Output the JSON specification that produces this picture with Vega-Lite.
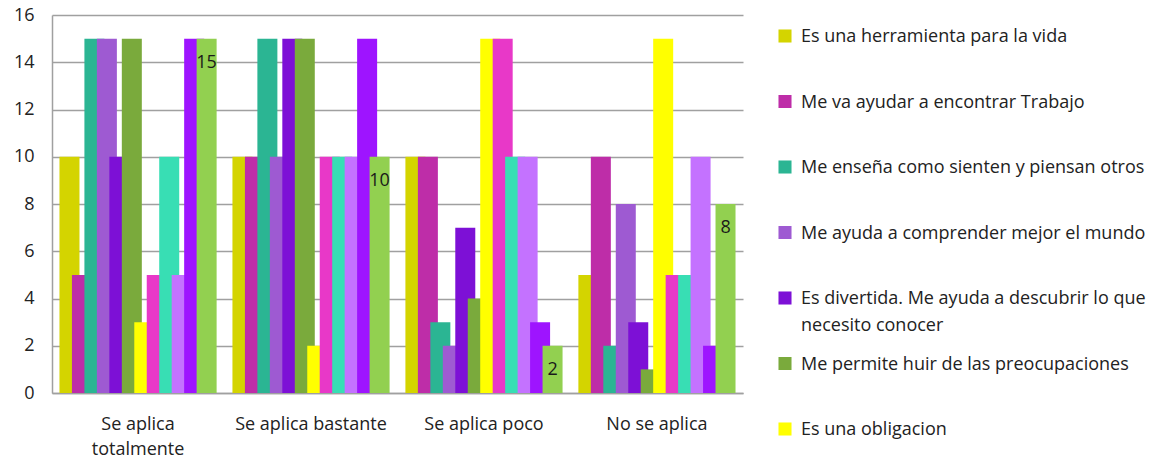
{
  "$schema": "https://vega.github.io/schema/vega-lite/v6.json",
  "autosize": {"type": "none"},
  "padding": {"left": 52, "top": 15, "right": 424, "bottom": 65},
  "width": 691,
  "height": 378,
  "background": "white",
  "config": {"view": {"stroke": null}, "font": "Open Sans"},
  "data": {"values": [
    {"cat": "Se aplica totalmente", "s": 1, "serie": "Es una herramienta para la vida", "v": 10},
    {"cat": "Se aplica totalmente", "s": 2, "serie": "Me va ayudar a encontrar Trabajo", "v": 5},
    {"cat": "Se aplica totalmente", "s": 3, "serie": "Me enseña como sienten y piensan otros", "v": 15},
    {"cat": "Se aplica totalmente", "s": 4, "serie": "Me ayuda a comprender mejor el mundo", "v": 15},
    {"cat": "Se aplica totalmente", "s": 5, "serie": "Es divertida. Me ayuda a descubrir lo que necesito conocer", "v": 10},
    {"cat": "Se aplica totalmente", "s": 6, "serie": "Me permite huir de las preocupaciones", "v": 15},
    {"cat": "Se aplica totalmente", "s": 7, "serie": "Es una obligacion", "v": 3},
    {"cat": "Se aplica totalmente", "s": 8, "serie": "Serie 8", "v": 5},
    {"cat": "Se aplica totalmente", "s": 9, "serie": "Serie 9", "v": 10},
    {"cat": "Se aplica totalmente", "s": 10, "serie": "Serie 10", "v": 5},
    {"cat": "Se aplica totalmente", "s": 11, "serie": "Serie 11", "v": 15},
    {"cat": "Se aplica totalmente", "s": 12, "serie": "Serie 12", "v": 15},
    {"cat": "Se aplica bastante", "s": 1, "serie": "Es una herramienta para la vida", "v": 10},
    {"cat": "Se aplica bastante", "s": 2, "serie": "Me va ayudar a encontrar Trabajo", "v": 10},
    {"cat": "Se aplica bastante", "s": 3, "serie": "Me enseña como sienten y piensan otros", "v": 15},
    {"cat": "Se aplica bastante", "s": 4, "serie": "Me ayuda a comprender mejor el mundo", "v": 10},
    {"cat": "Se aplica bastante", "s": 5, "serie": "Es divertida. Me ayuda a descubrir lo que necesito conocer", "v": 15},
    {"cat": "Se aplica bastante", "s": 6, "serie": "Me permite huir de las preocupaciones", "v": 15},
    {"cat": "Se aplica bastante", "s": 7, "serie": "Es una obligacion", "v": 2},
    {"cat": "Se aplica bastante", "s": 8, "serie": "Serie 8", "v": 10},
    {"cat": "Se aplica bastante", "s": 9, "serie": "Serie 9", "v": 10},
    {"cat": "Se aplica bastante", "s": 10, "serie": "Serie 10", "v": 10},
    {"cat": "Se aplica bastante", "s": 11, "serie": "Serie 11", "v": 15},
    {"cat": "Se aplica bastante", "s": 12, "serie": "Serie 12", "v": 10},
    {"cat": "Se aplica poco", "s": 1, "serie": "Es una herramienta para la vida", "v": 10},
    {"cat": "Se aplica poco", "s": 2, "serie": "Me va ayudar a encontrar Trabajo", "v": 10},
    {"cat": "Se aplica poco", "s": 3, "serie": "Me enseña como sienten y piensan otros", "v": 3},
    {"cat": "Se aplica poco", "s": 4, "serie": "Me ayuda a comprender mejor el mundo", "v": 2},
    {"cat": "Se aplica poco", "s": 5, "serie": "Es divertida. Me ayuda a descubrir lo que necesito conocer", "v": 7},
    {"cat": "Se aplica poco", "s": 6, "serie": "Me permite huir de las preocupaciones", "v": 4},
    {"cat": "Se aplica poco", "s": 7, "serie": "Es una obligacion", "v": 15},
    {"cat": "Se aplica poco", "s": 8, "serie": "Serie 8", "v": 15},
    {"cat": "Se aplica poco", "s": 9, "serie": "Serie 9", "v": 10},
    {"cat": "Se aplica poco", "s": 10, "serie": "Serie 10", "v": 10},
    {"cat": "Se aplica poco", "s": 11, "serie": "Serie 11", "v": 3},
    {"cat": "Se aplica poco", "s": 12, "serie": "Serie 12", "v": 2},
    {"cat": "No se aplica", "s": 1, "serie": "Es una herramienta para la vida", "v": 5},
    {"cat": "No se aplica", "s": 2, "serie": "Me va ayudar a encontrar Trabajo", "v": 10},
    {"cat": "No se aplica", "s": 3, "serie": "Me enseña como sienten y piensan otros", "v": 2},
    {"cat": "No se aplica", "s": 4, "serie": "Me ayuda a comprender mejor el mundo", "v": 8},
    {"cat": "No se aplica", "s": 5, "serie": "Es divertida. Me ayuda a descubrir lo que necesito conocer", "v": 3},
    {"cat": "No se aplica", "s": 6, "serie": "Me permite huir de las preocupaciones", "v": 1},
    {"cat": "No se aplica", "s": 7, "serie": "Es una obligacion", "v": 15},
    {"cat": "No se aplica", "s": 8, "serie": "Serie 8", "v": 5},
    {"cat": "No se aplica", "s": 9, "serie": "Serie 9", "v": 5},
    {"cat": "No se aplica", "s": 10, "serie": "Serie 10", "v": 10},
    {"cat": "No se aplica", "s": 11, "serie": "Serie 11", "v": 2},
    {"cat": "No se aplica", "s": 12, "serie": "Serie 12", "v": 8}
  ]},
  "encoding": {
    "x": {
      "field": "cat", "type": "nominal", "sort": null,
      "scale": {"paddingInner": 0.135, "paddingOuter": 0.065},
      "axis": {
        "title": null, "labelAngle": 0, "ticks": false, "grid": false,
        "domainColor": "#A0A0A0", "domainWidth": 1.5,
        "labelFont": "Open Sans", "labelFontSize": 18, "labelColor": "#222222",
        "labelPadding": 22, "labelBaseline": "top", "labelLineHeight": 25,
        "labelExpr": "datum.label == 'Se aplica totalmente' ? ['Se aplica', 'totalmente'] : datum.label"
      }
    },
    "xOffset": {"field": "s", "type": "ordinal", "scale": {"paddingInner": 0, "paddingOuter": 0}},
    "y": {
      "field": "v", "type": "quantitative",
      "scale": {"domain": [0, 16], "nice": false},
      "axis": {
        "title": null, "values": [0, 2, 4, 6, 8, 10, 12, 14, 16], "ticks": false,
        "domainColor": "#A0A0A0", "domainWidth": 1.5,
        "gridColor": "#A0A0A0", "gridWidth": 1.5,
        "labelFont": "Open Sans", "labelFontSize": 18, "labelColor": "#222222",
        "labelPadding": 18
      }
    }
  },
  "layer": [
    {
      "mark": {"type": "bar", "width": 20},
      "encoding": {
        "color": {
          "field": "serie", "type": "nominal",
          "scale": {
            "domain": ["Es una herramienta para la vida", "Me va ayudar a encontrar Trabajo", "Me enseña como sienten y piensan otros", "Me ayuda a comprender mejor el mundo", "Es divertida. Me ayuda a descubrir lo que necesito conocer", "Me permite huir de las preocupaciones", "Es una obligacion", "Serie 8", "Serie 9", "Serie 10", "Serie 11", "Serie 12"],
            "range": ["#D4D400", "#BE2DA8", "#2BB593", "#9E5AD2", "#7D10D6", "#7AAA3C", "#FFFF00", "#E838C8", "#38DEB4", "#C472FF", "#9E14FF", "#92D050"]
          },
          "legend": {
            "title": null, "orient": "none", "legendX": 724, "legendY": 12,
            "direction": "vertical", "gridAlign": "all",
            "values": ["Es una herramienta para la vida", "Me va ayudar a encontrar Trabajo", "Me enseña como sienten y piensan otros", "Me ayuda a comprender mejor el mundo", "Es divertida. Me ayuda a descubrir lo que necesito conocer", "Me permite huir de las preocupaciones", "Es una obligacion"],
            "symbolType": "square", "symbolSize": 170, "symbolStrokeWidth": 0,
            "labelFont": "Open Sans", "labelFontSize": 18, "labelColor": "#222222",
            "labelLimit": 420, "labelOffset": 7, "rowPadding": 19.5,
            "labelBaseline": "alphabetic",
            "encode": {"labels": {"update": {"dy": {"value": 6}, "lineHeight": {"value": 27}}}},
            "labelExpr": "datum.label == 'Es divertida. Me ayuda a descubrir lo que necesito conocer' ? ['Es divertida. Me ayuda a descubrir lo que', 'necesito conocer'] : datum.label"
          }
        }
      }
    },
    {
      "transform": [{"filter": "datum.s == 12"}],
      "mark": {"type": "text", "dy": 24, "fontSize": 18, "font": "Open Sans", "color": "#1a1a1a", "baseline": "middle"},
      "encoding": {"text": {"field": "v", "type": "quantitative"}}
    }
  ]
}
